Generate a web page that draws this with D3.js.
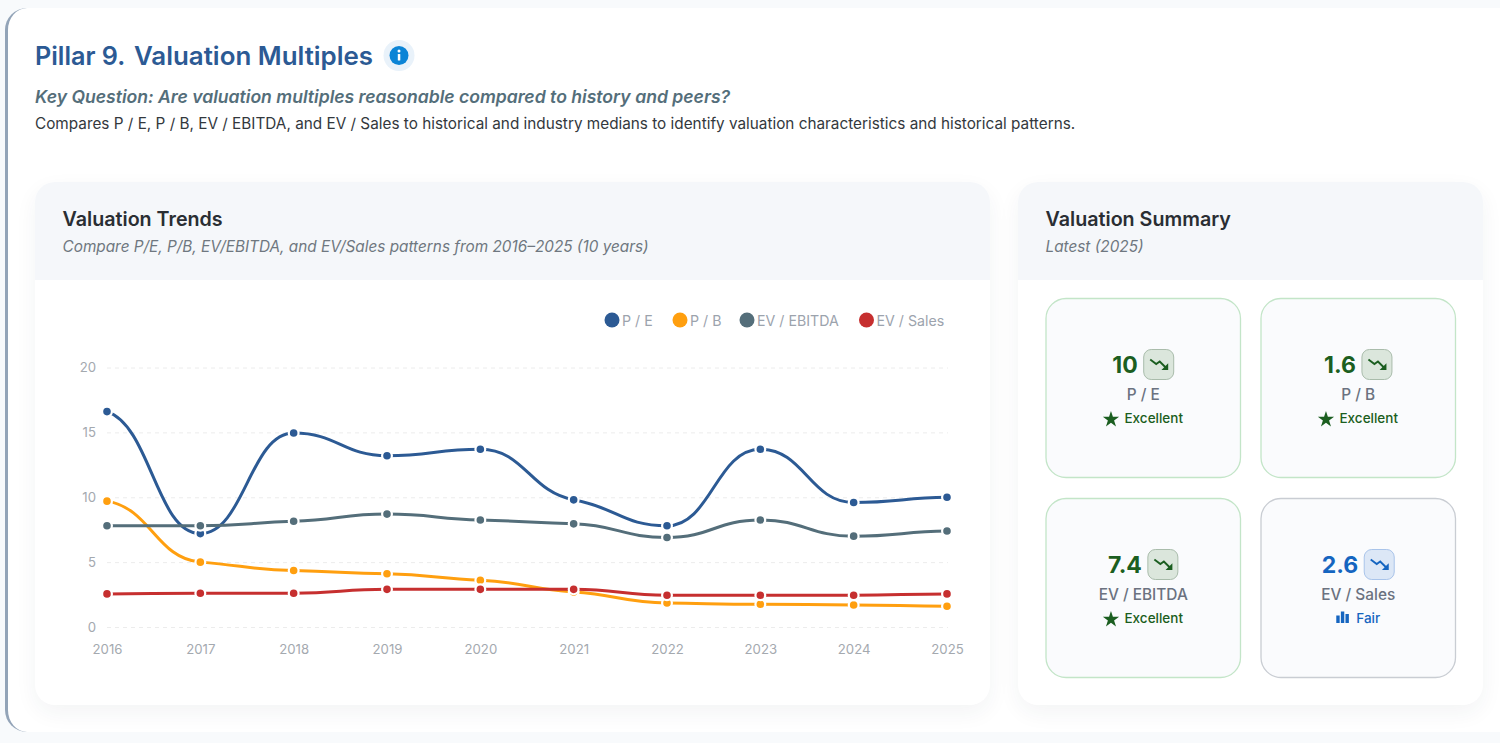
<!DOCTYPE html>
<html>
<head>
<meta charset="utf-8">
<title>Pillar 9. Valuation Multiples</title>
<script src="https://cdnjs.cloudflare.com/ajax/libs/d3/7.8.5/d3.min.js"></script>
<style>
  html, body { margin: 0; padding: 0; width: 1500px; height: 743px; overflow: hidden; background: #f8fafc; font-family: Inter, "Noto Sans", sans-serif; }
  #sheet { position: absolute; left: 5px; top: 8px; width: 1600px; height: 724px; box-sizing: border-box; background: #fff; border-left: 3.5px solid #93a4b8; border-radius: 22px; }
  .panel { position: absolute; top: 182px; height: 523px; background: #fff; border-radius: 20px; box-shadow: 0 8px 22px rgba(30,50,80,.055); overflow: hidden; }
  .panel .head { height: 97.5px; background: #f5f7fa; }
  svg { position: absolute; left: 0; top: 0; }
  text { font-family: Inter, "Noto Sans", sans-serif; }
</style>
</head>
<body>
<div id="sheet"></div>
<div class="panel" style="left:35px;width:955px"><div class="head"></div></div>
<div class="panel" style="left:1018px;width:465px"><div class="head"></div></div>
<svg id="page" width="1500" height="743"></svg>
<script>
// Fiscal years on the horizontal axis
const years = [2016, 2017, 2018, 2019, 2020, 2021, 2022, 2023, 2024, 2025];

// Multiple per year
const peValues = [16.6, 7.2, 14.95, 13.2, 13.7, 9.8, 7.8, 13.7, 9.6, 10.0];
const pbValues = [9.7, 5.0, 4.35, 4.1, 3.6, 2.7, 1.85, 1.75, 1.7, 1.6];
const evEbitdaValues = [7.8, 7.8, 8.15, 8.7, 8.25, 7.95, 6.9, 8.25, 7.0, 7.4];
const evSalesValues = [2.55, 2.6, 2.6, 2.9, 2.9, 2.9, 2.45, 2.45, 2.45, 2.55];

const seriesNames = ["P / E", "P / B", "EV / EBITDA", "EV / Sales"];
const seriesColors = ["#2c5a94", "#ff9f0f", "#546e7a", "#c62f2f"];
const seriesValues = [peValues, pbValues, evEbitdaValues, evSalesValues];
const legendDotX = [612, 680, 747, 866.5];

const yTicks = [0, 5, 10, 15, 20];

// Summary tiles
const tileValues = ["10", "1.6", "7.4", "2.6"];
const tileLabels = ["P / E", "P / B", "EV / EBITDA", "EV / Sales"];
const tileRatings = ["Excellent", "Excellent", "Excellent", "Fair"];

const svg = d3.select("#page");

// Softened monotone curve: flat at local extremes, shallow tangents elsewhere,
// control points pulled towards the middle of each interval
function softMonotone(context) {
  let xs, ys;
  return {
    lineStart() { xs = []; ys = []; },
    point(px, py) { xs.push(+px); ys.push(+py); },
    lineEnd() {
      const n = xs.length, reach = 0.47;
      const chord = d3.range(n - 1).map(i => (ys[i + 1] - ys[i]) / (xs[i + 1] - xs[i]));
      const tangent = xs.map((_, i) => {
        if (i === 0) return chord[0] * 0.25;
        if (i === n - 1) return chord[n - 2] * 0.25;
        const a = chord[i - 1], b = chord[i];
        return a * b <= 0 ? 0 : (a * b) / (a + b);
      });
      context.moveTo(xs[0], ys[0]);
      for (let i = 0; i < n - 1; i++) {
        const d = (xs[i + 1] - xs[i]) * reach;
        context.bezierCurveTo(xs[i] + d, ys[i] + tangent[i] * d, xs[i + 1] - d, ys[i + 1] - tangent[i + 1] * d, xs[i + 1], ys[i + 1]);
      }
    }
  };
}

// Heading block
svg.append("text").attr("x", 35).attr("y", 65).attr("font-size", 25.2).attr("font-weight", 600)
  .attr("fill", "#2c5a94").text("Pillar 9.");
svg.append("text").attr("x", 134).attr("y", 65).attr("font-size", 25.9).attr("font-weight", 600)
  .attr("fill", "#2c5a94").text("Valuation Multiples");
svg.append("circle").attr("cx", 399).attr("cy", 55.5).attr("r", 15.5).attr("fill", "#e9f2fa");
svg.append("circle").attr("cx", 399).attr("cy", 55.5).attr("r", 9.5).attr("fill", "#0b84d6");
svg.append("rect").attr("x", 397.8).attr("y", 54).attr("width", 2.5).attr("height", 6.5).attr("rx", .6).attr("fill", "#fff");
svg.append("circle").attr("cx", 399).attr("cy", 51).attr("r", 1.5).attr("fill", "#fff");
svg.append("text").attr("x", 35).attr("y", 103).attr("font-size", 17.6).attr("font-weight", 600).attr("font-style", "italic")
  .attr("fill", "#546e7a").text("Key Question: Are valuation multiples reasonable compared to history and peers?");
svg.append("text").attr("x", 35).attr("y", 129).attr("font-size", 15.32).attr("fill", "#33383d")
  .text("Compares P / E, P / B, EV / EBITDA, and EV / Sales to historical and industry medians to identify valuation characteristics and historical patterns.");

// Panel headers
svg.append("text").attr("x", 62.5).attr("y", 226).attr("font-size", 19.7).attr("font-weight", 600).attr("fill", "#2a2e33").text("Valuation Trends");
svg.append("text").attr("x", 62.5).attr("y", 252).attr("font-size", 15.34).attr("font-style", "italic").attr("fill", "#6f7780")
  .text("Compare P/E, P/B, EV/EBITDA, and EV/Sales patterns from 2016–2025 (10 years)");
svg.append("text").attr("x", 1045.5).attr("y", 226).attr("font-size", 19.7).attr("font-weight", 600).attr("fill", "#2a2e33").text("Valuation Summary");
svg.append("text").attr("x", 1045.5).attr("y", 252).attr("font-size", 15.34).attr("font-style", "italic").attr("fill", "#6f7780").text("Latest (2025)");

// Trend chart
const x = d3.scalePoint().domain(years).range([107, 947]);
const y = d3.scaleLinear().domain([0, 20]).range([627, 367.5]);

const grid = svg.append("g").attr("transform", "translate(107,0)")
  .call(d3.axisRight(y).tickValues(yTicks).tickSize(841).tickFormat(""));
grid.select(".domain").remove();
grid.selectAll("line").attr("stroke", "#ececec").attr("stroke-dasharray", "4 4");

const yAxis = svg.append("g").attr("transform", "translate(96,0)")
  .call(d3.axisLeft(y).tickValues(yTicks).tickSize(0).tickPadding(0));
yAxis.select(".domain").remove();
yAxis.selectAll("text").attr("font-size", 13.2).attr("fill", "#a4a9af").style("font-family", "Inter");

const xAxis = svg.append("g").attr("transform", "translate(0,644.5)")
  .call(d3.axisBottom(x).tickSize(0).tickPadding(0).tickFormat(d3.format("d")));
xAxis.select(".domain").remove();
xAxis.selectAll("text").attr("font-size", 13.2).attr("fill", "#a4a9af").style("font-family", "Inter");

const line = d3.line().x((d, i) => x(years[i])).y(d => y(d)).curve(softMonotone);

// Each series: line first, then its points with a white ring
seriesValues.forEach((vals, s) => {
  const g = svg.append("g");
  g.append("path").attr("d", line(vals)).attr("fill", "none").attr("stroke", seriesColors[s]).attr("stroke-width", 3);
  g.selectAll("circle").data(vals).join("circle")
    .attr("cx", (d, i) => x(years[i])).attr("cy", d => y(d)).attr("r", 4.9)
    .attr("fill", seriesColors[s]).attr("stroke", "#fff").attr("stroke-width", 2.2);
});

// Legend
seriesNames.forEach((name, s) => {
  svg.append("circle").attr("cx", legendDotX[s]).attr("cy", 320).attr("r", 7.5).attr("fill", seriesColors[s]);
  svg.append("text").attr("x", legendDotX[s] + 10).attr("y", 325.5).attr("font-size", 14.2).attr("fill", "#9ca3ad").text(name);
});

// Summary tiles, two by two
const tileX = d3.scaleBand().domain([0, 1]).range([1045.5, 1456]).paddingInner(0.0907);
const tileY = d3.scaleBand().domain([0, 1]).range([298, 678]).paddingInner(0.1);
const ratingStyles = {
  Excellent: { text: "#1b5e20", border: "#c3e5c8", boxFill: "#dbe6dc", boxStroke: "#a9bcab" },
  Fair: { text: "#1565c0", border: "#c9cdd3", boxFill: "#dce7f6", boxStroke: "#a9c4ea" }
};

tileValues.forEach((value, i) => {
  const st = ratingStyles[tileRatings[i]];
  const left = tileX(i % 2), top = tileY(Math.floor(i / 2));
  const w = tileX.bandwidth(), h = tileY.bandwidth();
  const g = svg.append("g").attr("transform", `translate(${left},${top})`);
  const cx = w / 2;

  g.append("rect").attr("x", .5).attr("y", .5).attr("width", w - 1).attr("height", h - 1).attr("rx", 20)
    .attr("fill", "#fafbfd").attr("stroke", st.border).attr("stroke-width", 1.3);

  // Value and its trend badge, centred as one unit
  const row = g.append("g");
  const valueText = row.append("text").attr("x", 0).attr("y", 75).attr("font-size", 23).attr("font-weight", 700).attr("fill", st.text).text(value);
  const vw = valueText.node().getComputedTextLength();
  const badge = row.append("g").attr("transform", `translate(${vw + 5.5},51)`);
  badge.append("rect").attr("x", .5).attr("y", .5).attr("width", 30).attr("height", 30).attr("rx", 7.5)
    .attr("fill", st.boxFill).attr("stroke", st.boxStroke);
  badge.append("path").attr("d", "M7 10.5L13 15L16.5 12.5L23.5 19.5").attr("fill", "none").attr("stroke", st.text).attr("stroke-width", 1.9);
  badge.append("path").attr("d", "M18.2 21H25V14.2Z").attr("fill", st.text);
  row.attr("transform", `translate(${cx - (vw + 36.5) / 2},0)`);

  g.append("text").attr("x", cx).attr("y", 102).attr("text-anchor", "middle").attr("font-size", 15.4).attr("font-weight", 500)
    .attr("fill", "#6b7280").text(tileLabels[i]);

  // Rating line with its glyph
  const rate = g.append("g");
  const rt = rate.append("text").attr("x", 0).attr("y", 124.5).attr("font-size", 13.5).attr("font-weight", 500).attr("fill", st.text).text(tileRatings[i]);
  const rw = rt.node().getComputedTextLength();
  if (tileRatings[i] === "Excellent") {
    rate.append("path").attr("d", d3.symbol(d3.symbolStar, 82)()).attr("transform", "translate(-13.5,121.5)").attr("fill", st.text);
    rate.attr("transform", `translate(${cx - rw / 2 + 10.5},0)`);
  } else {
    [[-20, 3.4, 7.5], [-15.4, 3.4, 11.5], [-10.8, 3.4, 9]].forEach(b => {
      rate.append("rect").attr("x", b[0]).attr("y", 125 - b[2]).attr("width", b[1]).attr("height", b[2]).attr("fill", st.text);
    });
    rate.attr("transform", `translate(${cx - rw / 2 + 10},0)`);
  }
});
</script>
</body>
</html>
